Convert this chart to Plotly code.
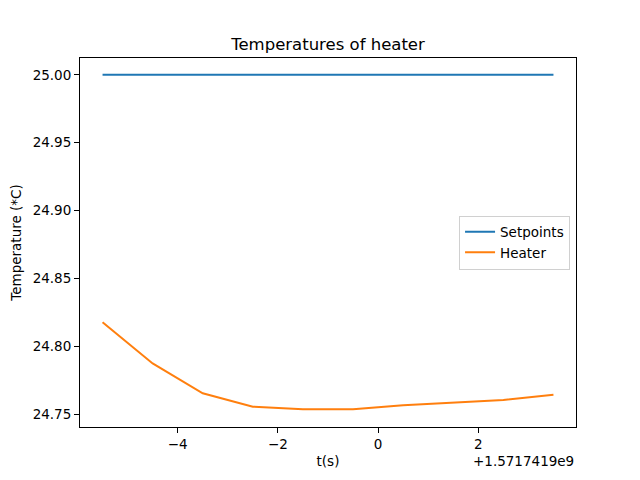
import plotly.graph_objects as go

# ───────────── DATOS ─────────────
T_OFFSET = 1.5717419e9
t_rel    = [-5.5, -4.5, -3.5, -2.5, -1.5, -0.5, 0.5, 1.5, 2.5, 3.5]
setpoints = [25.0, 25.0, 25.0, 25.0, 25.0, 25.0, 25.0, 25.0, 25.0, 25.0]
heater    = [24.8177, 24.7874, 24.7654, 24.7556, 24.7537, 24.7537,
             24.7566, 24.7586, 24.7605, 24.7644]

FONT = "DejaVu Sans"
# la página añade 8 px de margen al body: se compensa en los márgenes
SHIFT = 8

fig = go.Figure()
fig.add_trace(go.Scatter(x=t_rel, y=setpoints, name="Setpoints", mode="lines",
                         line=dict(color="#1f77b4", width=2)))
fig.add_trace(go.Scatter(x=t_rel, y=heater, name="Heater", mode="lines",
                         line=dict(color="#ff7f0e", width=2)))

axis_common = dict(showgrid=False, zeroline=False, showline=True, linecolor="black",
                   linewidth=1, mirror=True, ticks="outside", ticklen=5, tickwidth=1,
                   tickcolor="black", tickfont=dict(family=FONT, size=13.5, color="black"))

fig.update_layout(
    width=640, height=480,
    margin=dict(l=80 - SHIFT, r=64 + SHIFT, t=58 - SHIFT, b=53 + SHIFT, autoexpand=False),
    paper_bgcolor="white", plot_bgcolor="white",
    font=dict(family=FONT, color="black"),
    title=dict(text="Temperatures of heater", x=(328 - SHIFT)/640, xanchor="center",
               y=1 - (44 - SHIFT)/480, yanchor="middle", font=dict(family=FONT, size=16.5)),
    xaxis=dict(range=[-5.95, 3.95], dtick=2, tickformat="d",
               title=dict(text="t(s)", font=dict(family=FONT, size=13.5), standoff=5),
               **axis_common),
    yaxis=dict(range=[24.7406, 25.0124], dtick=0.05, tick0=24.75, tickformat=".2f",
               title=dict(text="Temperature (*C)", font=dict(family=FONT, size=13.5), standoff=8),
               **axis_common),
    legend=dict(x=0.988, xanchor="right", y=0.5, yanchor="middle",
                bordercolor="#d0d0d0", borderwidth=1, bgcolor="white",
                font=dict(family=FONT, size=13.5), tracegroupgap=0),
    showlegend=True,
    annotations=[dict(text=f"+{T_OFFSET:.7e}".replace("e+09", "e9"), xref="paper", yref="paper",
                      x=1.0, xanchor="right", y=-(461 - 427.2)/369.6, yanchor="middle",
                      showarrow=False, font=dict(family=FONT, size=13.5, color="black"))],
)

fig.write_html("out.html")
